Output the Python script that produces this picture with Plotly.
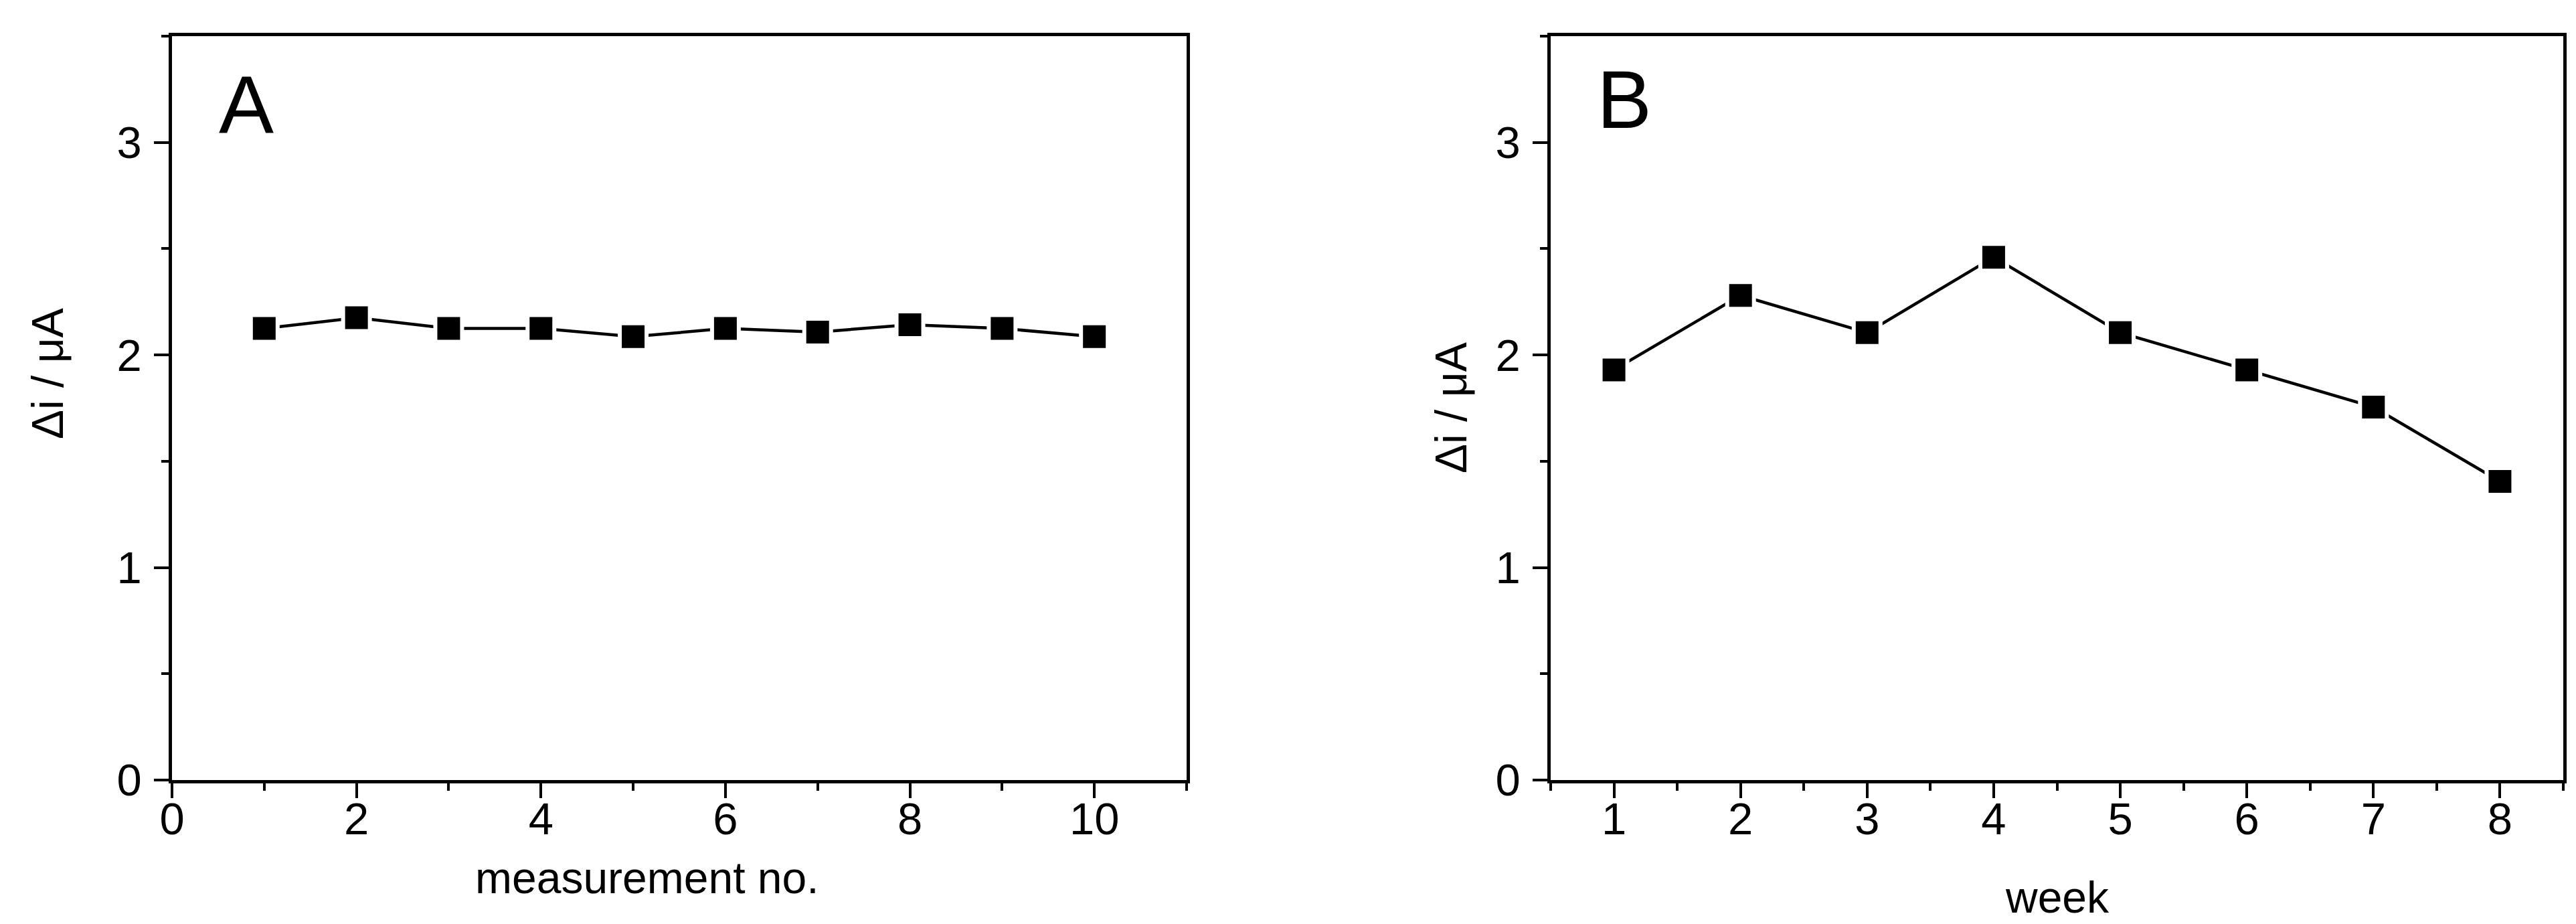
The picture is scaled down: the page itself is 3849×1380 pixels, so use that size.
import plotly.graph_objects as go

W, H = 3849, 1380

# ---- data ----
measurement_no = [1, 2, 3, 4, 5, 6, 7, 8, 9, 10]
delta_i_A = [2.125, 2.175, 2.125, 2.125, 2.086, 2.125, 2.108, 2.142, 2.125, 2.086]
weeks = [1, 2, 3, 4, 5, 6, 7, 8]
delta_i_B = [1.93, 2.28, 2.105, 2.46, 2.105, 1.93, 1.755, 1.405]

x_title_A = "measurement no."
x_title_B = "week"
y_title = "Δi / μA"
panel_labels = ["A", "B"]

FONT = "Arial, Liberation Sans, sans-serif"
TICKF = 67

def px_x(p):
    return p / W

def px_y(p):
    return 1 - p / H

fig = go.Figure()

marker = dict(symbol="square", size=40, color="black", line=dict(color="white", width=6))
fig.add_trace(go.Scatter(x=measurement_no, y=delta_i_A, mode="lines+markers",
                         line=dict(color="black", width=4.5), marker=marker,
                         xaxis="x", yaxis="y", showlegend=False))
fig.add_trace(go.Scatter(x=weeks, y=delta_i_B, mode="lines+markers",
                         line=dict(color="black", width=4.5), marker=marker,
                         xaxis="x2", yaxis="y2", showlegend=False))

ax_common = dict(showline=True, linecolor="black", linewidth=4.5, mirror=True,
                 ticks="outside", ticklen=22, tickwidth=4, tickcolor="black",
                 showgrid=False, zeroline=False, automargin=False,
                 tickfont=dict(family=FONT, size=TICKF, color="black"))

ydom = [px_y(1157), px_y(46)]
XSTAND = -26
YSTAND = 5

fig.update_layout(
    template="none",
    width=W, height=H,
    margin=dict(l=0, r=0, t=0, b=0, autoexpand=False),
    paper_bgcolor="white", plot_bgcolor="white",
    xaxis=dict(domain=[px_x(249), px_x(1765)], range=[0, 11.0001], dtick=2, tick0=0,
               anchor="y",
               minor=dict(dtick=1, tick0=0, ticks="outside", ticklen=11, tickwidth=4, tickcolor="black"),
               ticklabelstandoff=XSTAND, **ax_common),
    yaxis=dict(domain=ydom, range=[0, 3.5001], dtick=1, tick0=0, anchor="x",
               minor=dict(dtick=0.5, tick0=0, ticks="outside", ticklen=11, tickwidth=4, tickcolor="black"),
               ticklabelstandoff=YSTAND, **ax_common),
    xaxis2=dict(domain=[px_x(2309), px_x(3822)], range=[0.4999, 8.5001], dtick=1, tick0=1,
                anchor="y2",
                minor=dict(dtick=0.5, tick0=0.5, ticks="outside", ticklen=11, tickwidth=4, tickcolor="black"),
                ticklabelstandoff=XSTAND, **ax_common),
    yaxis2=dict(domain=ydom, range=[0, 3.5001], dtick=1, tick0=0, anchor="x2",
                minor=dict(dtick=0.5, tick0=0, ticks="outside", ticklen=11, tickwidth=4, tickcolor="black"),
                ticklabelstandoff=YSTAND, **ax_common),
)

def ann(text, x, y, size, xanchor="center", yanchor="middle", angle=0):
    return dict(text=text, x=px_x(x), y=px_y(y), xref="paper", yref="paper",
                xanchor=xanchor, yanchor=yanchor, textangle=angle, showarrow=False,
                font=dict(family=FONT, size=size, color="black"))

fig.update_layout(annotations=[
    ann(panel_labels[0], 317, 149, 123, xanchor="left"),
    ann(panel_labels[1], 2376, 141, 123, xanchor="left"),
    ann(x_title_A, 959, 1303, 66),
    ann(x_title_B, 3066, 1332, 66),
    ann(y_title, 63, 550, 66, angle=-90),
    ann(y_title, 2160, 601, 66, angle=-90),
])

fig.write_html("out.html")
